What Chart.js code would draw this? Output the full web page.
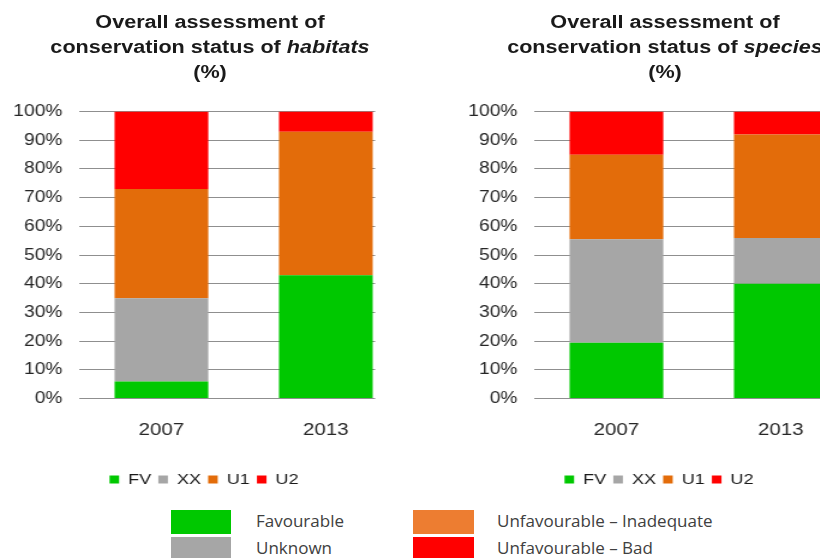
<!DOCTYPE html>
<html>
<head>
<meta charset="utf-8">
<script src="https://cdn.jsdelivr.net/npm/chart.js@4.4.1/dist/chart.umd.min.js"></script>
<style>
  html, body { margin:0; padding:0; background:#fff; }
  body { width:820px; height:558px; position:relative; overflow:hidden; }
  .panel { position:absolute; top:0; width:342px; height:500px; transform:scaleX(1.2); transform-origin:0 0; }
  .title { position:absolute; top:10px; left:4px; width:342px; text-align:center;
           font:bold 18px "Liberation Sans", Arial, sans-serif; line-height:25px; color:#1a1a1a; }
  .panel canvas { position:absolute; top:88px; left:0; }
  .key { position:absolute; width:60px; height:24px; }
  .keytext { position:absolute; font:17px "Open Sans", sans-serif; color:#404040; line-height:24px; }
</style>
</head>
<body>
<div class="panel" style="left:0px">
  <div class="title">Overall assessment of<br>conservation status of <i>habitats</i><br>(%)</div>
  <canvas id="habitats" width="342" height="411"></canvas>
</div>
<div class="panel" style="left:455px">
  <div class="title">Overall assessment of<br>conservation status of <i>species</i><br>(%)</div>
  <canvas id="species" width="342" height="411"></canvas>
</div>

<div class="key" style="left:171px;top:510px;background:#00c800"></div>
<div class="key" style="left:171px;top:537px;background:#a6a6a6"></div>
<div class="keytext" style="left:256px;top:509px">Favourable</div>
<div class="keytext" style="left:256px;top:536px">Unknown</div>
<div class="key" style="left:413px;top:510px;width:61px;background:#ed7d31"></div>
<div class="key" style="left:413px;top:537px;width:61px;background:#ff0000"></div>
<div class="keytext" style="left:497px;top:509px">Unfavourable – Inadequate</div>
<div class="keytext" style="left:497px;top:536px">Unfavourable – Bad</div>

<script>
const years = ["2007", "2013"];
const statusCodes = ["FV", "XX", "U1", "U2"];
const statusColors = ["#00c800", "#a6a6a6", "#e36c0a", "#ff0000"];

// habitats (%)
const habitatsFV = [6, 43];
const habitatsXX = [29, 0];
const habitatsU1 = [38, 50];
const habitatsU2 = [27, 7];

// species (%)
const speciesFV = [19.5, 40];
const speciesXX = [36, 16];
const speciesU1 = [29.5, 36];
const speciesU2 = [15, 8];

const yTicks = [0, 10, 20, 30, 40, 50, 60, 70, 80, 90, 100];

// the source crops the gridlines just past the last bar
const trimGrid = {
    id: "trimGrid",
    beforeDatasetsDraw(chart) {
        const x = chart.scales.x;
        const cw = x.width / chart.data.labels.length;
        const from = x.getPixelForValue(chart.data.labels.length - 1) + cw * 0.3;
        const a = chart.chartArea;
        chart.ctx.save();
        chart.ctx.fillStyle = "#fff";
        chart.ctx.fillRect(from, a.top - 2, a.right - from + 2, a.bottom - a.top + 4);
        chart.ctx.restore();
    }
};

const makeChart = (id, seriesList) => {
    new Chart(document.getElementById(id), {
        type: "bar",
        data: {
            labels: years,
            datasets: seriesList.map((d, i) => ({
                label: statusCodes[i],
                data: d,
                backgroundColor: statusColors[i],
                borderWidth: 0,
                categoryPercentage: 1,
                barPercentage: 0.57,
            })),
        },
        options: {
            responsive: false,
            animation: false,
            layout: { padding: { top: 9, right: 2, left: 0, bottom: 2 } },
            scales: {
                x: {
                    stacked: true,
                    afterFit: (s) => { s.height += 3; },
                    grid: { display: false, drawTicks: false },
                    border: { display: false },
                    ticks: { color: "#262626", padding: 22, font: { family: "Liberation Sans", size: 17 } },
                },
                y: {
                    stacked: true,
                    min: 0,
                    max: 100,
                    afterBuildTicks: (s) => { s.ticks = yTicks.map(v => ({ value: v })); },
                    afterFit: (s) => { s.width = 66; },
                    grid: { color: "#8f8f8f", drawTicks: false },
                    border: { display: false },
                    ticks: {
                        color: "#262626",
                        padding: 14,
                        font: { family: "Liberation Sans", size: 16 },
                        callback: (v) => v + "%",
                    },
                },
            },
            plugins: {
                legend: {
                    position: "bottom",
                    labels: {
                        boxWidth: 8,
                        boxHeight: 8,
                        padding: 6,
                        color: "#1a1a1a",
                        font: { family: "Liberation Sans", size: 15 },
                    },
                },
                tooltip: { enabled: false },
            },
        },
        plugins: [trimGrid],
    });
};

makeChart("habitats", [habitatsFV, habitatsXX, habitatsU1, habitatsU2]);
makeChart("species", [speciesFV, speciesXX, speciesU1, speciesU2]);
</script>
</body>
</html>
